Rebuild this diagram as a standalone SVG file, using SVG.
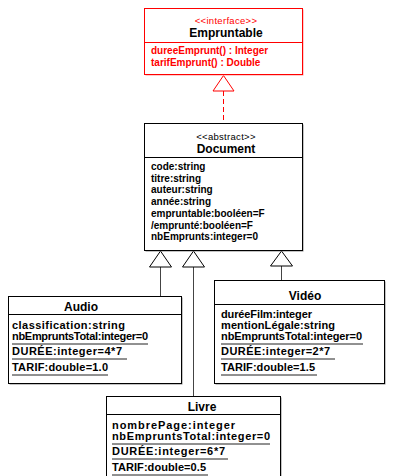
<svg xmlns="http://www.w3.org/2000/svg" width="393" height="476" viewBox="0 0 393 476">
<style>
text{font-family:"Liberation Sans",Arial,Helvetica,sans-serif;fill:#000}
.box{fill:#fff;stroke:#000;stroke-width:1}
.ibox{fill:#fff;stroke:#f00;stroke-width:1}
.sh{fill:#888}
.ish{fill:#f99}
.div{stroke:#000;stroke-width:1}
.idiv{stroke:#f00;stroke-width:1}
.ster{font-size:9.5px;text-anchor:middle;letter-spacing:0.3px}
.title{font-size:12px;font-weight:bold;text-anchor:middle}
.attr{font-size:10px;font-weight:bold}
.sattr{font-size:11px;font-weight:bold}
.red{fill:#f00}
.ul{stroke:#222;stroke-width:1}
.gen{stroke:#444;stroke-width:1;fill:none}
.tri{fill:#fff;stroke:#000;stroke-width:1}
.itri{fill:#fff;stroke:#f00;stroke-width:1}
.real{stroke:#f00;stroke-width:1;stroke-dasharray:5,3;fill:none}
</style>
<g id="connectors">
<line class="real" x1="223.5" y1="91" x2="223.5" y2="123"/>
<polygon class="itri" points="223.5,75.5 213,91 234,91"/>
<line class="gen" x1="160.5" y1="267" x2="160.5" y2="296"/>
<polygon class="tri" points="160.5,251 149.5,267 171.5,267"/>
<line class="gen" x1="193.5" y1="267" x2="193.5" y2="396"/>
<polygon class="tri" points="193.5,251 182.5,267 204.5,267"/>
<line class="gen" x1="281.5" y1="266" x2="281.5" y2="280"/>
<polygon class="tri" points="281.5,251 270.5,266 292.5,266"/>
</g>
<g id="Empruntable">
<rect class="ish" x="145.5" y="9.5" width="158" height="66"/>
<rect class="ibox" x="144.5" y="8.5" width="158" height="66"/>
<line class="idiv" x1="144.5" y1="42.5" x2="302.5" y2="42.5"/>
<text class="ster red" x="226" y="23.5">&lt;&lt;interface&gt;&gt;</text>
<text class="title" x="226" y="36.5">Empruntable</text>
<text class="attr red" x="151" y="54">dureeEmprunt() : Integer</text>
<text class="attr red" x="151" y="65.5">tarifEmprunt() : Double</text>
</g>
<g id="Document">
<rect class="sh" x="145.5" y="124.5" width="158" height="127"/>
<rect class="box" x="144.5" y="123.5" width="158" height="127"/>
<line class="div" x1="144.5" y1="157.5" x2="302.5" y2="157.5"/>
<text class="ster" x="226" y="139.5">&lt;&lt;abstract&gt;&gt;</text>
<text class="title" x="226" y="152.5">Document</text>
<text class="attr" x="151" y="170">code:string</text>
<text class="attr" x="151" y="181.7">titre:string</text>
<text class="attr" x="151" y="193.4">auteur:string</text>
<text class="attr" x="151" y="205">année:string</text>
<text class="attr" x="151" y="216.9">empruntable:booléen=F</text>
<text class="attr" x="151" y="228.6">/emprunté:booléen=F</text>
<text class="attr" x="151" y="240.3">nbEmprunts:integer=0</text>
</g>
<g id="Audio">
<rect class="sh" x="9.5" y="297.5" width="173" height="87"/>
<rect class="box" x="8.5" y="296.5" width="173" height="87"/>
<line class="div" x1="8.5" y1="314.5" x2="181.5" y2="314.5"/>
<text class="title" x="81" y="310.5">Audio</text>
<text class="sattr" x="12" y="329" textLength="113">classification:string</text>
<text class="sattr" x="12" y="339.5" textLength="136">nbEmpruntsTotal:integer=0</text>
<line class="ul" x1="12" y1="344" x2="148" y2="344"/>
<text class="sattr" x="12" y="355" textLength="110">DURÉE:integer=4*7</text>
<line class="ul" x1="12" y1="359" x2="127" y2="359"/>
<text class="sattr" x="12" y="370.5" textLength="96">TARIF:double=1.0</text>
<line class="ul" x1="12" y1="375" x2="108" y2="375"/>
</g>
<g id="Video">
<rect class="sh" x="215.5" y="281.5" width="170" height="103"/>
<rect class="box" x="214.5" y="280.5" width="170" height="103"/>
<line class="div" x1="214.5" y1="304.5" x2="384.5" y2="304.5"/>
<text class="title" x="305" y="299.5">Vidéo</text>
<text class="sattr" x="221" y="318" textLength="91">duréeFilm:integer</text>
<text class="sattr" x="221" y="329" textLength="114">mentionLégale:string</text>
<text class="sattr" x="221" y="339.5" textLength="141">nbEmpruntsTotal:integer=0</text>
<line class="ul" x1="221" y1="344" x2="363" y2="344"/>
<text class="sattr" x="221" y="355" textLength="109">DURÉE:integer=2*7</text>
<line class="ul" x1="221" y1="359" x2="335" y2="359"/>
<text class="sattr" x="221" y="370.5" textLength="94">TARIF:double=1.5</text>
<line class="ul" x1="221" y1="375" x2="317" y2="375"/>
</g>
<g id="Livre">
<rect class="sh" x="107.5" y="397.5" width="174" height="90"/>
<rect class="box" x="106.5" y="396.5" width="174" height="90"/>
<line class="div" x1="106.5" y1="414.5" x2="280.5" y2="414.5"/>
<text class="title" x="202" y="410.5">Livre</text>
<text class="sattr" x="112" y="429" textLength="123">nombrePage:integer</text>
<text class="sattr" x="112" y="439.5" textLength="158">nbEmpruntsTotal:integer=0</text>
<line class="ul" x1="112" y1="444" x2="270" y2="444"/>
<text class="sattr" x="112" y="455" textLength="113">DURÉE:integer=6*7</text>
<line class="ul" x1="112" y1="459" x2="228" y2="459"/>
<text class="sattr" x="112" y="470.5" textLength="94">TARIF:double=0.5</text>
<line class="ul" x1="112" y1="475" x2="208" y2="475"/>
</g>
</svg>
